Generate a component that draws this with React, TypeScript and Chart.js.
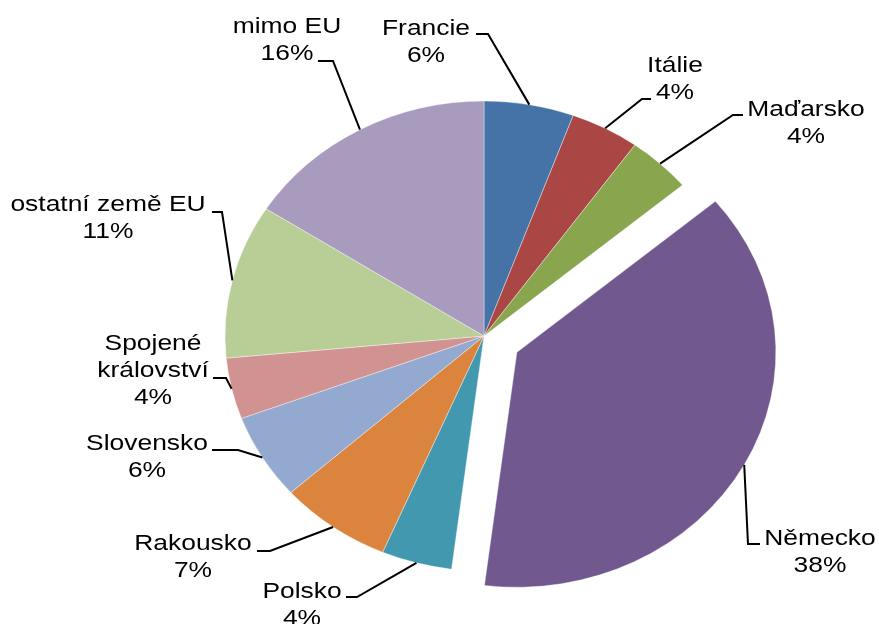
import { useEffect, useRef } from "react";
import { Chart, registerables } from "chart.js";

Chart.register(...registerables);

// ---- data ----
const categories = [
  "Francie",
  "Itálie",
  "Maďarsko",
  "Německo",
  "Polsko",
  "Rakousko",
  "Slovensko",
  "Spojené království",
  "ostatní země EU",
  "mimo EU",
];
const labelLines = [
  ["Francie"],
  ["Itálie"],
  ["Maďarsko"],
  ["Německo"],
  ["Polsko"],
  ["Rakousko"],
  ["Slovensko"],
  ["Spojené", "království"],
  ["ostatní země EU"],
  ["mimo EU"],
];
const shares = [5.6, 4.3, 4.0, 38.1, 4.4, 7.0, 5.9, 4.2, 10.6, 15.9];
const colors = [
  "#4572A7",
  "#AA4643",
  "#89A54E",
  "#71588F",
  "#4198AF",
  "#DB843D",
  "#93A9CF",
  "#D19392",
  "#B9CD96",
  "#A99BBD",
];
const explodedIndex = 3;

// ---- layout (separate from data) ----
const W = 879;
const H = 624;
const RADIUS = 235;
const SCALE_X = 1.102;
const EXPLODE = 34;
const FONT = "22px 'Liberation Sans', Arial, sans-serif";
const TEXT_SCALE_X = 1.2;
const LINE_H = 27;
const labelLayout = [
  { x: 426, y: 35, elbow: [488, 34], end: [476, 34] },
  { x: 675, y: 72, elbow: [642, 99], end: [651, 99] },
  { x: 806, y: 116, elbow: [733, 115], end: [743, 115] },
  { x: 820, y: 545, elbow: [748, 544], end: [760, 544] },
  { x: 302, y: 598, elbow: [357, 597], end: [346, 597] },
  { x: 193, y: 550, elbow: [270, 551], end: [257, 551] },
  { x: 147, y: 450, elbow: [238, 450], end: [212, 450] },
  { x: 153, y: 350, elbow: [226, 378], end: [213, 378] },
  { x: 108, y: 211, elbow: [222, 212], end: [212, 212] },
  { x: 287, y: 33, elbow: [333, 61], end: [318, 61] },
];

const explodePlugin = {
  id: "explode",
  afterUpdate(chart: any) {
    const el: any = chart.getDatasetMeta(0).data[explodedIndex];
    if (!el) return;
    const mid = (el.startAngle + el.endAngle) / 2;
    el.x += Math.cos(mid) * EXPLODE;
    el.y += Math.sin(mid) * EXPLODE;
  },
};

const ellipsePlugin = {
  id: "ellipse",
  beforeDatasetsDraw(chart: any) {
    const { ctx, chartArea } = chart;
    const cx = (chartArea.left + chartArea.right) / 2;
    const cy = (chartArea.top + chartArea.bottom) / 2;
    ctx.save();
    ctx.translate(cx, cy);
    ctx.scale(SCALE_X, 1);
    ctx.translate(-cx, -cy);
  },
  afterDatasetsDraw(chart: any) {
    chart.ctx.restore();
  },
};

const labelPlugin = {
  id: "outLabels",
  afterDraw(chart: any) {
    const { ctx, chartArea } = chart;
    const cx = (chartArea.left + chartArea.right) / 2;
    const meta = chart.getDatasetMeta(0);
    const total = shares.reduce((a, b) => a + b, 0);
    ctx.save();
    ctx.strokeStyle = "#000";
    ctx.lineWidth = 2;
    ctx.fillStyle = "#000";
    ctx.font = FONT;
    ctx.textAlign = "center";
    ctx.textBaseline = "alphabetic";
    meta.data.forEach((el: any, i: number) => {
      const mid = (el.startAngle + el.endAngle) / 2;
      const r = el.outerRadius;
      const sx = cx + (el.x - cx) * SCALE_X + Math.cos(mid) * r * SCALE_X;
      const sy = el.y + Math.sin(mid) * r;
      const lay = labelLayout[i];
      ctx.beginPath();
      ctx.moveTo(sx, sy);
      ctx.lineTo(lay.elbow[0], lay.elbow[1]);
      ctx.lineTo(lay.end[0], lay.end[1]);
      ctx.stroke();
      const pct = Math.round((shares[i] / total) * 100) + "%";
      const lines = [...labelLines[i], pct];
      lines.forEach((t, k) => {
        ctx.save();
        ctx.translate(lay.x, lay.y + k * LINE_H);
        ctx.scale(TEXT_SCALE_X, 1);
        ctx.fillText(t, 0, 0);
        ctx.restore();
      });
    });
    ctx.restore();
  },
};

export default function App() {
  const ref = useRef<HTMLCanvasElement | null>(null);
  useEffect(() => {
    if (!ref.current) return;
    const chart = new Chart(ref.current, {
      type: "pie",
      data: {
        labels: categories,
        datasets: [
          {
            data: shares,
            backgroundColor: colors,
            borderColor: "rgba(255,255,255,0.6)",
            borderWidth: 0.6,
            radius: RADIUS,
          } as any,
        ],
      },
      options: {
        animation: false,
        responsive: false,
        maintainAspectRatio: false,
        layout: { padding: { left: 89, right: 0, top: 48, bottom: 0 } },
        plugins: {
          legend: { display: false },
          tooltip: { enabled: false },
        },
      },
      plugins: [explodePlugin, ellipsePlugin, labelPlugin],
    });
    return () => chart.destroy();
  }, []);
  return (
    <div style={{ position: "fixed", left: 0, top: 0, width: W, height: H, background: "#fff" }}>
      <canvas ref={ref} width={W} height={H} style={{ display: "block", width: W, height: H }} />
    </div>
  );
}
